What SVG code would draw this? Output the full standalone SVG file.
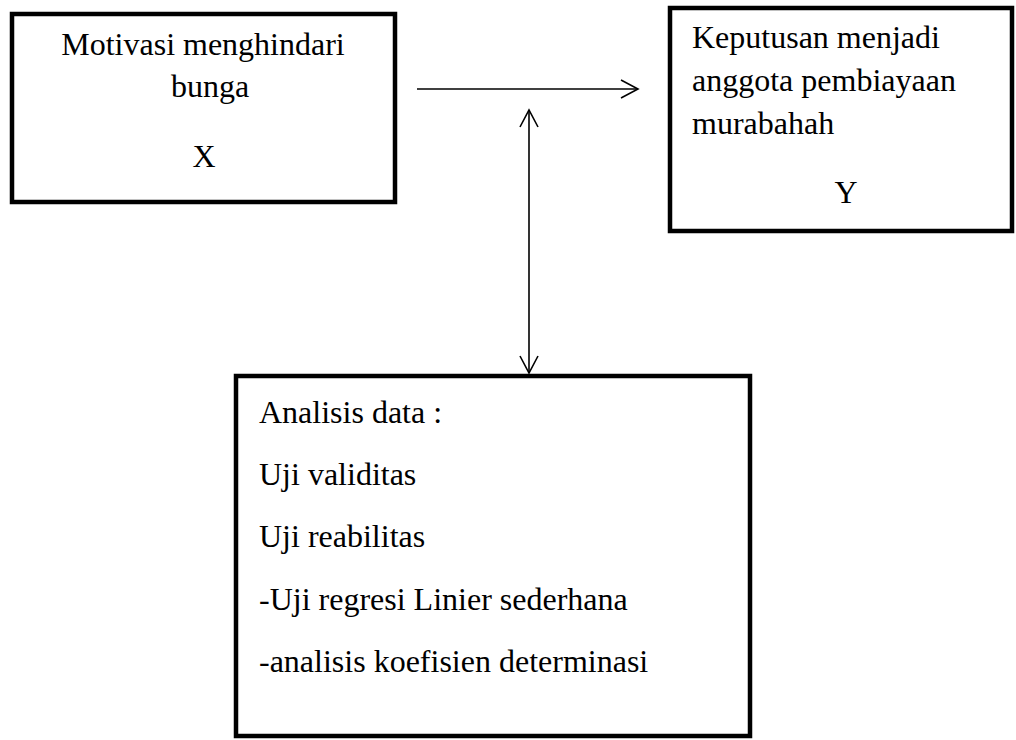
<svg xmlns="http://www.w3.org/2000/svg" width="1016" height="740" viewBox="0 0 1016 740">
  <style>
    .box { fill: #ffffff; stroke: #000000; stroke-width: 4.5; }
    .t { font-family: "Liberation Serif", "Times New Roman", serif; font-size: 32px; fill: #000000; }
    .c { text-anchor: middle; }
    .conn { stroke: #000000; stroke-width: 1.6; fill: none; }
  </style>
  <defs>
    <marker id="arr" viewBox="0 0 20 20" refX="18" refY="10" markerWidth="20" markerHeight="20" markerUnits="userSpaceOnUse" orient="auto-start-reverse">
      <path d="M1,1 L18,10 L1,19" fill="none" stroke="#000" stroke-width="1.6"/>
    </marker>
  </defs>
  <rect width="1016" height="740" fill="#ffffff"/>
  <g id="node-x">
    <rect class="box" x="12" y="14" width="383" height="188"/>
    <text class="t c" x="203" y="55">Motivasi menghindari</text>
    <text class="t c" x="210" y="97">bunga</text>
    <text class="t c" x="204" y="167">X</text>
  </g>
  <g id="node-y">
    <rect class="box" x="670" y="8" width="342" height="223"/>
    <text class="t" x="692" y="48">Keputusan menjadi</text>
    <text class="t" x="692" y="91">anggota pembiayaan</text>
    <text class="t" x="692" y="134">murabahah</text>
    <text class="t c" x="846" y="203">Y</text>
  </g>
  <g id="node-analisis">
    <rect class="box" x="236" y="376" width="514" height="360"/>
    <text class="t" x="259" y="423">Analisis data :</text>
    <text class="t" x="259" y="485">Uji validitas</text>
    <text class="t" x="259" y="547">Uji reabilitas</text>
    <text class="t" x="259" y="610">-Uji regresi Linier sederhana</text>
    <text class="t" x="259" y="672">-analisis koefisien determinasi</text>
  </g>
  <g id="connectors">
    <line class="conn" x1="417" y1="89" x2="638" y2="89" marker-end="url(#arr)"/>
    <line class="conn" x1="529" y1="110" x2="529" y2="373" marker-start="url(#arr)" marker-end="url(#arr)"/>
  </g>
</svg>
